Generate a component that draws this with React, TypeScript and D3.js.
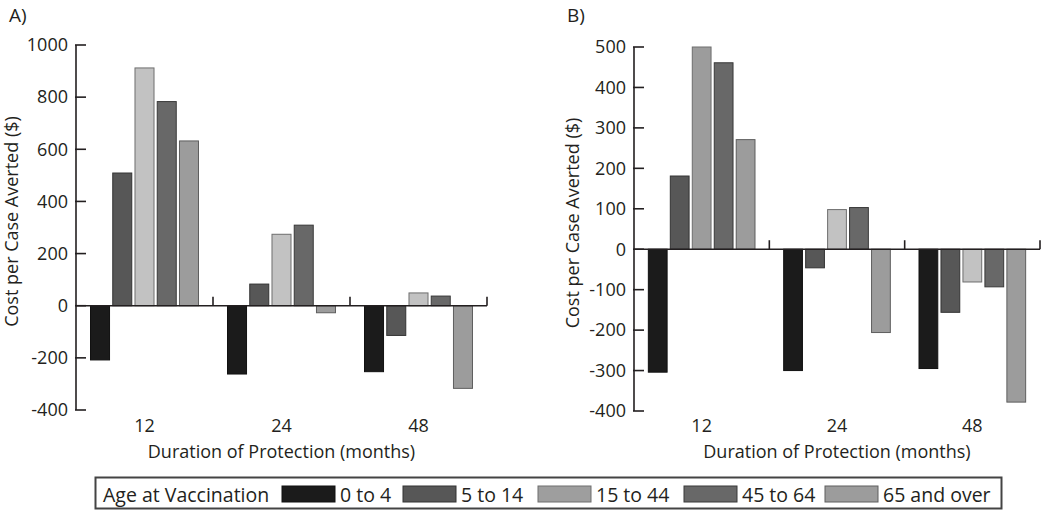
import React from "react";
import * as d3 from "d3";

const durations = ["12", "24", "48"];
const ageGroups = ["0 to 4", "5 to 14", "15 to 44", "45 to 64", "65 and over"];
// Panel A values, one array per age group, ordered by duration 12, 24, 48
const panelA_0to4 = [-208, -262, -253];
const panelA_5to14 = [509, 83, -114];
const panelA_15to44 = [912, 274, 49];
const panelA_45to64 = [783, 309, 37];
const panelA_65plus = [632, -27, -317];
// Panel B values
const panelB_0to4 = [-304, -300, -295];
const panelB_5to14 = [181, -46, -156];
const panelB_15to44 = [500, 98, -81];
const panelB_45to64 = [461, 103, -93];
const panelB_65plus = [271, -206, -378];

const ticksA = [-400, -200, 0, 200, 400, 600, 800, 1000];
const ticksB = [-400, -300, -200, -100, 0, 100, 200, 300, 400, 500];

const seriesFill = ["#1b1b1b", "#575757", "#c2c2c2", "#686868", "#9c9c9c"];
const seriesStroke = ["#111111", "#333333", "#6e6e6e", "#383838", "#5e5e5e"];
const legendFill = ["#1b1b1b", "#575757", "#9e9e9e", "#686868", "#9c9c9c"];

const FONT = "'Open Sans', sans-serif";
const TXT = "#231f20";

type PanelProps = {
  label: string;
  series: number[][];
  ticks: number[];
  left: number;
  right: number;
  top: number;
  bottom: number;
  overrideFill?: (si: number, gi: number) => string | undefined;
  yLabelX: number;
  labelX: number;
};

function Panel(p: PanelProps) {
  const y = d3
    .scaleLinear()
    .domain([d3.min(p.ticks) as number, d3.max(p.ticks) as number])
    .range([p.bottom, p.top]);
  const x0 = d3.scaleBand<string>().domain(durations).range([p.left, p.right]).paddingInner(0).paddingOuter(0);
  const x1 = d3
    .scaleBand<string>()
    .domain(ageGroups)
    .range([0, x0.bandwidth()])
    .paddingInner(0.1)
    .paddingOuter(0.63);
  const y0 = y(0);
  const midY = (p.top + p.bottom) / 2 - 6;
  return (
    <g>
      <text x={p.labelX} y={22} fontSize={19} fontFamily={FONT} fill={TXT}>
        {p.label}
      </text>
      {/* bars */}
      {durations.map((dur, gi) =>
        ageGroups.map((ag, si) => {
          const v = p.series[si][gi];
          const xx = (x0(dur) as number) + (x1(ag) as number);
          const yTop = Math.min(y(v), y0);
          const h = Math.abs(y(v) - y0);
          const fill = (p.overrideFill && p.overrideFill(si, gi)) || seriesFill[si];
          return (
            <rect
              key={dur + ag}
              x={xx + 0.5}
              y={yTop}
              width={x1.bandwidth() - 1}
              height={h}
              fill={fill}
              stroke={seriesStroke[si]}
              strokeWidth={1}
            />
          );
        })
      )}
      {/* x axis line at zero */}
      <line x1={p.left} x2={p.right} y1={y0} y2={y0} stroke="#231f20" strokeWidth={1.6} />
      {durations.map((dur) => (
        <line
          key={"sep" + dur}
          x1={(x0(dur) as number) + x0.bandwidth()}
          x2={(x0(dur) as number) + x0.bandwidth()}
          y1={y0}
          y2={y0 - 9}
          stroke="#231f20"
          strokeWidth={1.6}
        />
      ))}
      {/* y axis */}
      <line x1={p.left} x2={p.left} y1={p.top} y2={p.bottom} stroke="#231f20" strokeWidth={1.6} />
      {p.ticks.map((t) => (
        <g key={"t" + t}>
          <line x1={p.left - 1} x2={p.left + 10} y1={y(t)} y2={y(t)} stroke="#231f20" strokeWidth={1.6} />
          <text
            x={p.left - 8}
            y={y(t)}
            dy="0.35em"
            textAnchor="end"
            fontSize={18}
            fontFamily={FONT}
            fill={TXT}
          >
            {t}
          </text>
        </g>
      ))}
      {/* category labels */}
      {durations.map((dur) => (
        <text
          key={"c" + dur}
          x={(x0(dur) as number) + x0.bandwidth() / 2}
          y={432}
          textAnchor="middle"
          fontSize={18}
          fontFamily={FONT}
          fill={TXT}
        >
          {dur}
        </text>
      ))}
      <text
        x={(p.left + p.right) / 2}
        y={458}
        textAnchor="middle"
        fontSize={18}
        fontFamily={FONT}
        fill={TXT}
      >
        Duration of Protection (months)
      </text>
      <text
        transform={`translate(${p.yLabelX},${midY}) rotate(-90)`}
        textAnchor="middle"
        fontSize={18}
        fontFamily={FONT}
        fill={TXT}
      >
        Cost per Case Averted ($)
      </text>
    </g>
  );
}

export default function App() {
  const seriesA = [panelA_0to4, panelA_5to14, panelA_15to44, panelA_45to64, panelA_65plus];
  const seriesB = [panelB_0to4, panelB_5to14, panelB_15to44, panelB_45to64, panelB_65plus];
  const legendSwatchX = [282, 403, 538, 684, 825];
  return (
    <svg
      width={1050}
      height={512}
      style={{ position: "absolute", left: 0, top: 0, background: "#fff" }}
    >
      <rect x={0} y={0} width={1050} height={512} fill="#fff" />
      <Panel
        label="A)"
        series={seriesA}
        ticks={ticksA}
        left={76}
        right={487}
        top={45}
        bottom={410}
        yLabelX={18}
        labelX={9}
      />
      <Panel
        label="B)"
        series={seriesB}
        ticks={ticksB}
        left={634}
        right={1040}
        top={47}
        bottom={411}
        yLabelX={579}
        labelX={567}
        overrideFill={(si, gi) => (si === 2 && gi === 0 ? "#9c9c9c" : undefined)}
      />
      {/* legend */}
      <rect x={95.5} y={477.5} width={906} height={31} fill="#fff" stroke="#444" strokeWidth={2} />
      <text x={103} y={502} fontSize={19.5} fontFamily={FONT} fill={TXT}>
        Age at Vaccination
      </text>
      {ageGroups.map((ag, i) => (
        <g key={"lg" + ag}>
          <rect
            x={legendSwatchX[i]}
            y={486}
            width={53}
            height={16}
            fill={legendFill[i]}
            stroke={seriesStroke[i]}
            strokeWidth={1}
          />
          <text x={legendSwatchX[i] + 58} y={502} fontSize={19.5} fontFamily={FONT} fill={TXT}>
            {ag}
          </text>
        </g>
      ))}
    </svg>
  );
}
